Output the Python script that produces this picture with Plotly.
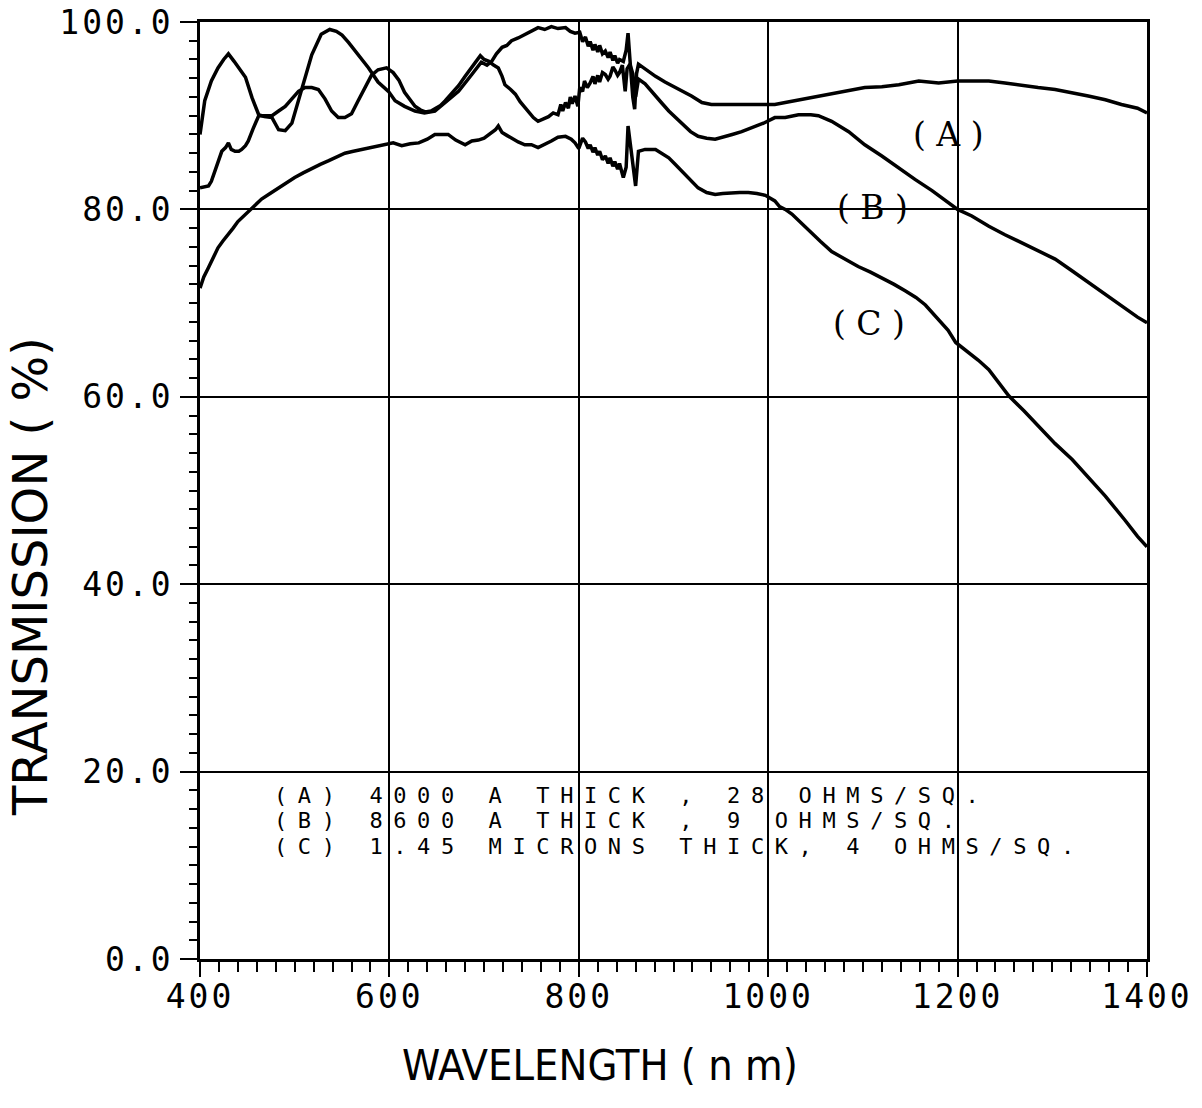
import plotly.graph_objects as go

# Film (A): 4000 A thick, 28 ohms/sq
wl_a = [400, 405, 412, 419, 425, 430, 436, 442, 448, 455, 462, 468, 476, 483, 490, 497,
        507, 518, 528, 537, 544, 550, 557, 564, 571, 578, 588, 599, 606, 616, 627, 637,
        648, 659, 673, 687, 697, 703, 708, 713, 719, 724, 729, 736, 743, 750, 757, 764,
        771, 778, 786, 791, 796, 801, 804, 807, 810, 812, 815, 817, 820, 822, 825, 828,
        831, 833, 836, 838, 841, 843, 847, 850, 852, 854, 857, 859, 861, 863, 870, 881,
        891, 902, 911, 919, 930, 940, 948, 965, 986, 1007, 1018, 1039, 1053, 1067, 1085,
        1102, 1120, 1138, 1159, 1180, 1200, 1233, 1250, 1268, 1285, 1303, 1320, 1338,
        1356, 1373, 1390, 1400]
tr_a = [88.0, 91.6, 93.7, 95.1, 96.0, 96.6, 95.8, 95.0, 94.1, 91.9, 90.1, 89.9, 89.8, 88.5, 88.4, 89.2,
        92.6, 96.5, 98.7, 99.2, 99.0, 98.6, 97.8, 96.9, 96.0, 95.1, 93.6, 92.6, 91.6, 91.0, 90.5, 90.3,
        90.5, 91.4, 92.6, 94.4, 95.7, 95.4, 95.8, 96.6, 97.3, 97.5, 98.0, 98.3, 98.7, 99.0, 99.4, 99.2,
        99.5, 99.3, 99.4, 99.0, 98.8, 98.9, 97.9, 98.4, 97.4, 97.9, 97.0, 97.6, 96.8, 97.5, 96.6, 96.9,
        96.2, 96.8, 95.9, 96.4, 95.6, 96.0, 95.8, 97.0, 98.8, 96.0, 92.0, 90.7, 94.5, 95.5, 95.0, 94.2,
        93.6, 93.0, 92.6, 92.1, 91.4, 91.2, 91.2, 91.2, 91.2, 91.2, 91.4, 91.8, 92.0, 92.3, 92.7,
        93.0, 93.1, 93.3, 93.7, 93.5, 93.7, 93.7, 93.5, 93.2, 93.0, 92.8, 92.5, 92.1,
        91.7, 91.2, 90.8, 90.3]

# Film (B): 8600 A thick, 9 ohms/sq
wl_b = [400, 405, 409, 412, 416, 420, 423, 427, 430, 433, 437, 441, 444, 448, 451, 456,
        462, 468, 476, 483, 490, 497, 504, 511, 518, 525, 532, 539, 546, 553, 560, 567,
        574, 581, 588, 597, 604, 610, 616, 622, 627, 633, 638, 644, 648, 654, 659, 666,
        673, 680, 687, 692, 696, 700, 705, 710, 715, 719, 722, 728, 733, 738, 743, 748,
        752, 757, 762, 768, 773, 778, 781, 783, 786, 789, 791, 793, 796, 799, 801, 804,
        806, 809, 812, 815, 817, 820, 822, 825, 828, 831, 833, 836, 838, 841, 843, 846,
        849, 851, 854, 857, 860, 863, 870, 881, 888, 895, 902, 909, 918, 926, 935, 944,
        952, 962, 972, 983, 995, 1007, 1018, 1032, 1045, 1053, 1067, 1085, 1102, 1120,
        1138, 1155, 1173, 1188, 1200, 1215, 1233, 1250, 1268, 1285, 1303, 1320, 1338,
        1356, 1373, 1390, 1400]
tr_b = [82.3, 82.4, 82.5, 83.0, 84.1, 85.3, 86.2, 86.6, 87.1, 86.4, 86.2, 86.2, 86.4, 86.8, 87.3, 88.6,
        90.0, 90.0, 90.0, 90.5, 91.0, 91.8, 92.6, 93.0, 93.0, 92.8, 91.8, 90.5, 89.8, 89.8, 90.2, 91.6,
        93.0, 94.3, 94.9, 95.1, 94.6, 93.8, 92.5, 91.6, 91.0, 90.6, 90.4, 90.5, 90.7, 91.1, 91.6, 92.4,
        93.2, 94.2, 95.1, 95.8, 96.4, 96.0, 95.8, 95.4, 95.1, 94.2, 93.3, 92.8, 92.3, 91.5, 90.9, 90.3,
        89.8, 89.4, 89.6, 89.9, 90.3, 90.1, 91.2, 90.5, 91.4, 90.8, 92.0, 91.3, 92.1, 91.0, 93.0, 92.6,
        93.7, 93.0, 93.5, 94.2, 93.4, 94.3, 93.6, 94.6, 94.4, 93.9, 94.2, 95.2, 94.9, 94.3, 94.6, 95.4,
        92.6, 95.0, 95.5, 94.5, 92.0, 93.9, 93.4, 92.2, 91.3, 90.5, 89.8, 89.1, 88.3, 87.8, 87.6, 87.5,
        87.7, 88.0, 88.3, 88.7, 89.2, 89.8, 89.8, 90.1, 90.1, 90.0, 89.4, 88.3, 86.9, 85.7,
        84.4, 83.2, 82.0, 80.9, 80.0, 79.3, 78.2, 77.3, 76.4, 75.6, 74.7, 73.5, 72.2,
        71.0, 69.7, 68.5, 67.9]

# Film (C): 1.45 microns thick, 4 ohms/sq
wl_c = [400, 404, 409, 414, 419, 424, 430, 435, 440, 446, 451, 458, 465, 474, 483, 491,
        500, 509, 518, 527, 536, 544, 553, 562, 571, 580, 588, 596, 604, 613, 622, 631,
        640, 648, 655, 662, 670, 680, 687, 694, 700, 706, 712, 715, 719, 724, 729, 736,
        743, 750, 757, 764, 771, 778, 786, 792, 796, 800, 804, 807, 810, 812, 815, 817,
        820, 822, 825, 828, 831, 833, 836, 838, 841, 843, 847, 850, 852, 855, 858, 860,
        863, 870, 881, 888, 895, 902, 909, 918, 926, 935, 944, 952, 962, 970, 979, 988,
        997, 1002, 1007, 1012, 1018, 1025, 1034, 1043, 1055, 1067, 1081, 1095, 1108, 1120,
        1133, 1145, 1156, 1166, 1173, 1180, 1190, 1198, 1210, 1222, 1233, 1245, 1254, 1270,
        1285, 1303, 1321, 1338, 1356, 1377, 1390, 1400]
tr_c = [71.6, 72.8, 73.8, 74.9, 75.9, 76.6, 77.3, 78.0, 78.7, 79.3, 79.8, 80.5, 81.1, 81.7, 82.3, 82.9,
        83.4, 83.9, 84.4, 84.8, 85.2, 85.6, 86.0, 86.2, 86.4, 86.6, 86.8, 86.9, 87.1, 86.8, 87.0, 87.1,
        87.5, 88.0, 88.0, 88.0, 87.4, 86.9, 87.3, 87.4, 87.6, 88.0, 88.5, 88.9, 88.2, 87.9, 87.6, 87.2,
        86.9, 86.9, 86.6, 86.9, 87.3, 87.7, 87.8, 87.5, 87.1, 86.5, 87.6, 87.2, 86.5, 86.9, 86.1, 86.6,
        85.8, 86.2, 85.3, 85.7, 84.9, 85.5, 84.6, 85.1, 84.3, 84.9, 83.4, 84.5, 88.9, 86.5, 84.0, 82.5,
        86.2, 86.4, 86.4, 86.0, 85.5, 84.8, 84.1, 83.2, 82.3, 81.8, 81.6, 81.7, 81.8, 81.8, 81.8, 81.7,
        81.5, 81.2, 80.9, 80.3, 80.0, 79.5, 78.6, 77.7, 76.6, 75.5, 74.7, 73.9, 73.3, 72.7,
        72.0, 71.3, 70.6, 69.8, 69.0, 68.2, 67.1, 65.8, 64.9, 63.9, 62.9, 61.3, 60.1, 58.5,
        56.9, 55.0, 53.3, 51.4, 49.4, 46.8, 45.1, 44.0]

series = [(wl_a, tr_a), (wl_b, tr_b), (wl_c, tr_c)]

# curve tags placed beside each trace (wavelength nm, transmission %)
tag_text = ["( A )", "( B )", "( C )"]
tag_x = [1190, 1110, 1106]
tag_y = [88.0, 80.2, 67.8]

note_lines = [
    "(A) 4000 A THICK , 28 OHMS/SQ.",
    "(B) 8600 A THICK , 9 OHMS/SQ.",
    "(C) 1.45 MICRONS THICK, 4 OHMS/SQ.",
]
note_y = [17.5, 14.74, 11.96]

fig = go.Figure()
for wl, tr in series:
    fig.add_trace(go.Scatter(x=wl, y=tr, mode="lines",
                             line=dict(color="black", width=3.5),
                             showlegend=False, hoverinfo="skip"))
# empty trace that carries the long major-tick axis
fig.add_trace(go.Scatter(x=[], y=[], xaxis="x2", yaxis="y", showlegend=False,
                         hoverinfo="skip"))

axis_common = dict(
    showline=True, linecolor="black", linewidth=2.5, mirror=True,
    showgrid=True, gridcolor="black", gridwidth=2, zeroline=False,
    ticks="outside", tickwidth=2, tickcolor="black",
    automargin=False,
    tickfont=dict(family="DejaVu Sans Mono", size=33, color="black"),
)

fig.update_layout(
    xaxis=dict(range=[400, 1400], tick0=400, dtick=200, ticklen=7,
               minor=dict(dtick=20, tick0=400, ticks="outside", ticklen=10,
                          tickwidth=2, tickcolor="black", showgrid=False),
               **axis_common),
    # longer major ticks on the wavelength axis, no labels of its own
    xaxis2=dict(overlaying="x", anchor="y", side="bottom",
                range=[400, 1400], tick0=400, dtick=200,
                ticks="outside", ticklen=17, tickwidth=2, tickcolor="black",
                showticklabels=False, showgrid=False, showline=False,
                zeroline=False, automargin=False),
    yaxis=dict(range=[0, 100], tick0=0, dtick=20, tickformat=".1f", ticklen=17,
               minor=dict(dtick=2, tick0=0, ticks="outside", ticklen=8,
                          tickwidth=2, tickcolor="black", showgrid=False),
               ticklabelstandoff=0,
               **axis_common),
)

annotations = [
    dict(text="TRANSMISSION ( %)", xref="paper", yref="paper",
         x=-0.1795, y=0.4077, textangle=-90, showarrow=False,
         xanchor="center", yanchor="middle",
         font=dict(family="DejaVu Sans", size=48, color="black")),
    dict(text="WAVELENGTH ( n m)", xref="paper", yref="paper",
         x=0.4224, y=-0.1131, showarrow=False,
         xanchor="center", yanchor="middle",
         font=dict(family="DejaVu Sans Condensed, DejaVu Sans", size=43, color="black")),
]
for line, yv in zip(note_lines, note_y):
    annotations.append(dict(text=line, x=476, y=yv, xref="x", yref="y",
                            showarrow=False, xanchor="left", yanchor="middle",
                            align="left",
                            font=dict(family="DejaVu Sans Mono", size=22, color="black")))
for t, xv, yv in zip(tag_text, tag_x, tag_y):
    annotations.append(dict(text=t, x=xv, y=yv, xref="x", yref="y",
                            showarrow=False, xanchor="center", yanchor="middle",
                            font=dict(family="DejaVu Serif", size=33, color="black")))

fig.update_layout(width=1202, height=1108,
                  margin=dict(l=200, r=55, t=22, b=149),
                  paper_bgcolor="white", plot_bgcolor="white",
                  showlegend=False, annotations=annotations)

# wide plotter-style spacing for tick labels and the film notes
spacing_css = (
    ".xtick text, .ytick text { letter-spacing: 3px; }"
    'g.annotation[data-index="2"] text, g.annotation[data-index="3"] text,'
    ' g.annotation[data-index="4"] text { letter-spacing: 10.6px; }'
)
post = ("var s=document.createElement('style');s.textContent='" + spacing_css.replace("'", "\\'")
        + "';document.head.appendChild(s);")

fig.write_html("out.html", post_script=post)
